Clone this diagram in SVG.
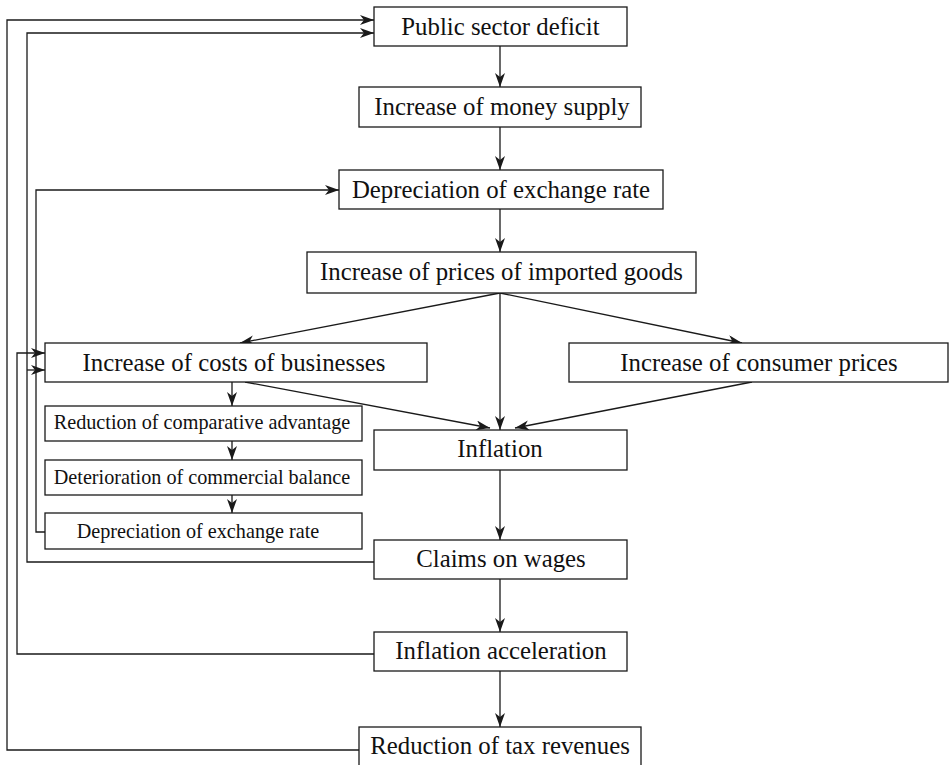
<svg xmlns="http://www.w3.org/2000/svg" width="949" height="765" viewBox="0 0 949 765">
<style>
.box{fill:#fff;stroke:#1a1a1a;stroke-width:1.3}
.t{font-family:"Liberation Serif","DejaVu Serif",serif;font-size:24.8px;fill:#111;text-anchor:middle}
.s{font-family:"Liberation Serif","DejaVu Serif",serif;font-size:20.2px;fill:#111;text-anchor:middle}
.c{fill:none;stroke:#1a1a1a;stroke-width:1.3}
</style>
<defs>
<marker id="ah" viewBox="0 0 14 10" refX="14" refY="5" markerWidth="14" markerHeight="10" markerUnits="userSpaceOnUse" orient="auto">
<path d="M0,0 L14,5 L0,10 L4,5 z" fill="#1a1a1a"/>
</marker>
</defs>
<g id="connectors">
<path class="c" marker-end="url(#ah)" d="M500,46 V87"/>
<path class="c" marker-end="url(#ah)" d="M500,127 V170"/>
<path class="c" marker-end="url(#ah)" d="M500,209 V252"/>
<path class="c" marker-end="url(#ah)" d="M500,293 L240,343"/>
<path class="c" marker-end="url(#ah)" d="M500,293 V430"/>
<path class="c" marker-end="url(#ah)" d="M500,293 L742,343"/>
<path class="c" marker-end="url(#ah)" d="M245,382 L490,428"/>
<path class="c" marker-end="url(#ah)" d="M752,382 L515,428"/>
<path class="c" marker-end="url(#ah)" d="M232,382 V406"/>
<path class="c" marker-end="url(#ah)" d="M232,441 V460"/>
<path class="c" marker-end="url(#ah)" d="M232,495 V513"/>
<path class="c" marker-end="url(#ah)" d="M500,470 V540"/>
<path class="c" marker-end="url(#ah)" d="M500,579 V632"/>
<path class="c" marker-end="url(#ah)" d="M500,671 V727"/>
<path class="c" marker-end="url(#ah)" d="M359,750 H7 V20 H374"/>
<path class="c" marker-end="url(#ah)" d="M374,562 H27 V33 H374"/>
<path class="c" marker-end="url(#ah)" d="M27,370 H45"/>
<path class="c" marker-end="url(#ah)" d="M45,532 H36 V190 H339"/>
<path class="c" marker-end="url(#ah)" d="M374,654 H17 V353 H45"/>
</g>
<g id="n1"><rect class="box" x="374" y="7" width="253" height="39"/><text class="t" x="500.5" y="35">Public sector deficit</text></g>
<g id="n2"><rect class="box" x="359" y="87" width="282" height="40"/><text class="t" x="502" y="115">Increase of money supply</text></g>
<g id="n3"><rect class="box" x="339" y="170" width="324" height="39"/><text class="t" x="501" y="198">Depreciation of exchange rate</text></g>
<g id="n4"><rect class="box" x="307" y="252" width="389" height="41"/><text class="t" x="501.5" y="280">Increase of prices of imported goods</text></g>
<g id="n5"><rect class="box" x="45" y="343" width="382" height="39"/><text class="t" x="234" y="371">Increase of costs of businesses</text></g>
<g id="n6"><rect class="box" x="569" y="343" width="379" height="39"/><text class="t" x="759" y="371">Increase of consumer prices</text></g>
<g id="n7"><rect class="box" x="45" y="406" width="317" height="35"/><text class="s" x="202" y="429">Reduction of comparative advantage</text></g>
<g id="n8"><rect class="box" x="45" y="460" width="317" height="35"/><text class="s" x="202" y="484">Deterioration of commercial balance</text></g>
<g id="n9"><rect class="box" x="45" y="513" width="317" height="36"/><text class="s" x="198" y="538">Depreciation of exchange rate</text></g>
<g id="n10"><rect class="box" x="374" y="430" width="253" height="40"/><text class="t" x="500" y="457">Inflation</text></g>
<g id="n11"><rect class="box" x="374" y="540" width="253" height="39"/><text class="t" x="501" y="567">Claims on wages</text></g>
<g id="n12"><rect class="box" x="374" y="632" width="253" height="39"/><text class="t" x="501" y="659">Inflation acceleration</text></g>
<g id="n13"><rect class="box" x="359" y="727" width="282" height="40"/><text class="t" x="500" y="754">Reduction of tax revenues</text></g>
</svg>
